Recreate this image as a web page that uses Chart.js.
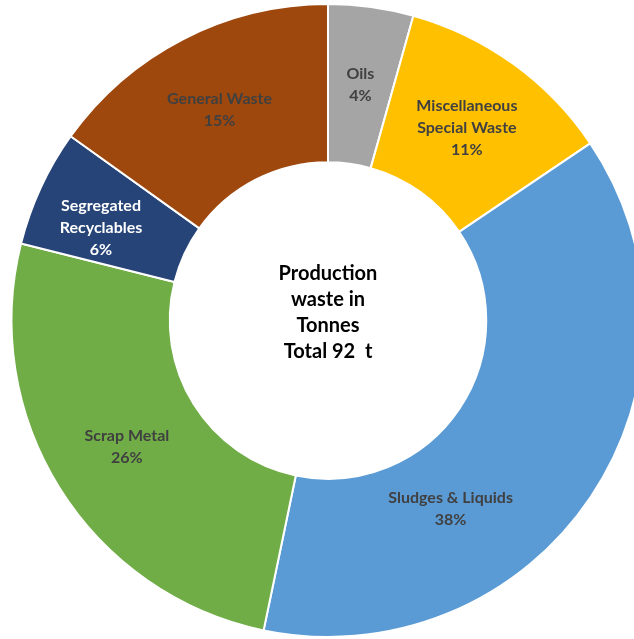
<!DOCTYPE html>
<html>
<head>
<meta charset="utf-8">
<script src="https://cdn.jsdelivr.net/npm/chart.js@4.4.1/dist/chart.umd.min.js"></script>
<style>
  html, body { margin: 0; padding: 0; background: #fff; overflow: hidden; }
  #wasteChart { display: block; }
</style>
</head>
<body>
<canvas id="wasteChart" width="656" height="639"></canvas>
<script>
// Production waste, tonnes (total 92 t)
const categories = ['Oils', 'Miscellaneous Special Waste', 'Sludges & Liquids', 'Scrap Metal', 'Segregated Recyclables', 'General Waste'];
const tonnes = [4.0, 10.3, 34.7, 23.6, 5.5, 13.9];
const labelLines = [['Oils'], ['Miscellaneous', 'Special Waste'], ['Sludges & Liquids'], ['Scrap Metal'], ['Segregated', 'Recyclables'], ['General Waste']];
const centerLines = ['Production', 'waste in', 'Tonnes', 'Total 92  t'];

const colors = ['#A5A5A5', '#FFC000', '#5B9BD5', '#70AD47', '#264478', '#9E480E'];
const textColors = ['#404040', '#404040', '#404040', '#404040', '#FFFFFF', '#404040'];
// where the label sits inside each slice (fraction of angle, fraction of ring width)
const labelAngleFrac = [0.5, 0.5, 0.67, 0.5, 0.38, 0.5];
const labelRadFrac = [0.5, 0.5, 0.42, 0.5, 0.55, 0.5];

const FONT = 'Lato, Calibri, "Open Sans", sans-serif';

const sliceLabels = {
    id: 'sliceLabels',
    afterDatasetsDraw(chart) {
        const ctx = chart.ctx;
        const meta = chart.getDatasetMeta(0);
        const data = chart.data.datasets[0].data;
        const total = data.reduce((a, b) => a + b, 0);
        ctx.save();
        ctx.textAlign = 'center';
        ctx.textBaseline = 'middle';
        ctx.font = 'bold 16px ' + FONT;
        meta.data.forEach((arc, i) => {
            const p = arc.getProps(['x', 'y', 'startAngle', 'endAngle', 'innerRadius', 'outerRadius'], true);
            const ang = p.startAngle + (p.endAngle - p.startAngle) * labelAngleFrac[i];
            const r = p.innerRadius + (p.outerRadius - p.innerRadius) * labelRadFrac[i];
            const cx = p.x + Math.cos(ang) * r;
            const cy = p.y + Math.sin(ang) * r;
            const lines = labelLines[i].concat([Math.round(data[i] / total * 100) + '%']);
            const lh = 22;
            const y0 = cy - (lines.length - 1) * lh / 2;
            ctx.fillStyle = textColors[i];
            lines.forEach((t, k) => ctx.fillText(t, cx, y0 + k * lh));
        });
        ctx.restore();
    }
};

const centerText = {
    id: 'centerText',
    afterDatasetsDraw(chart) {
        const ctx = chart.ctx;
        const arc = chart.getDatasetMeta(0).data[0];
        ctx.save();
        ctx.textAlign = 'center';
        ctx.textBaseline = 'middle';
        ctx.font = 'bold 20px ' + FONT;
        ctx.fillStyle = '#000000';
        const lh = 26;
        const y0 = arc.y - 8 - (centerLines.length - 1) * lh / 2;
        centerLines.forEach((t, k) => ctx.fillText(t, arc.x, y0 + k * lh));
        ctx.restore();
    }
};

const ctx = document.getElementById('wasteChart').getContext('2d');

new Chart(ctx, {
    type: 'doughnut',
    data: {
        labels: categories,
        datasets: [{
            data: tonnes,
            backgroundColor: colors,
            borderColor: '#FFFFFF',
            borderWidth: 2,
        }]
    },
    options: {
        responsive: false,
        animation: false,
        cutout: '50%',
        layout: { padding: { top: 3, bottom: 1, left: 0, right: 0 } },
        plugins: {
            legend: { display: false },
            tooltip: { enabled: false },
        },
    },
    plugins: [sliceLabels, centerText]
});
</script>
</body>
</html>
